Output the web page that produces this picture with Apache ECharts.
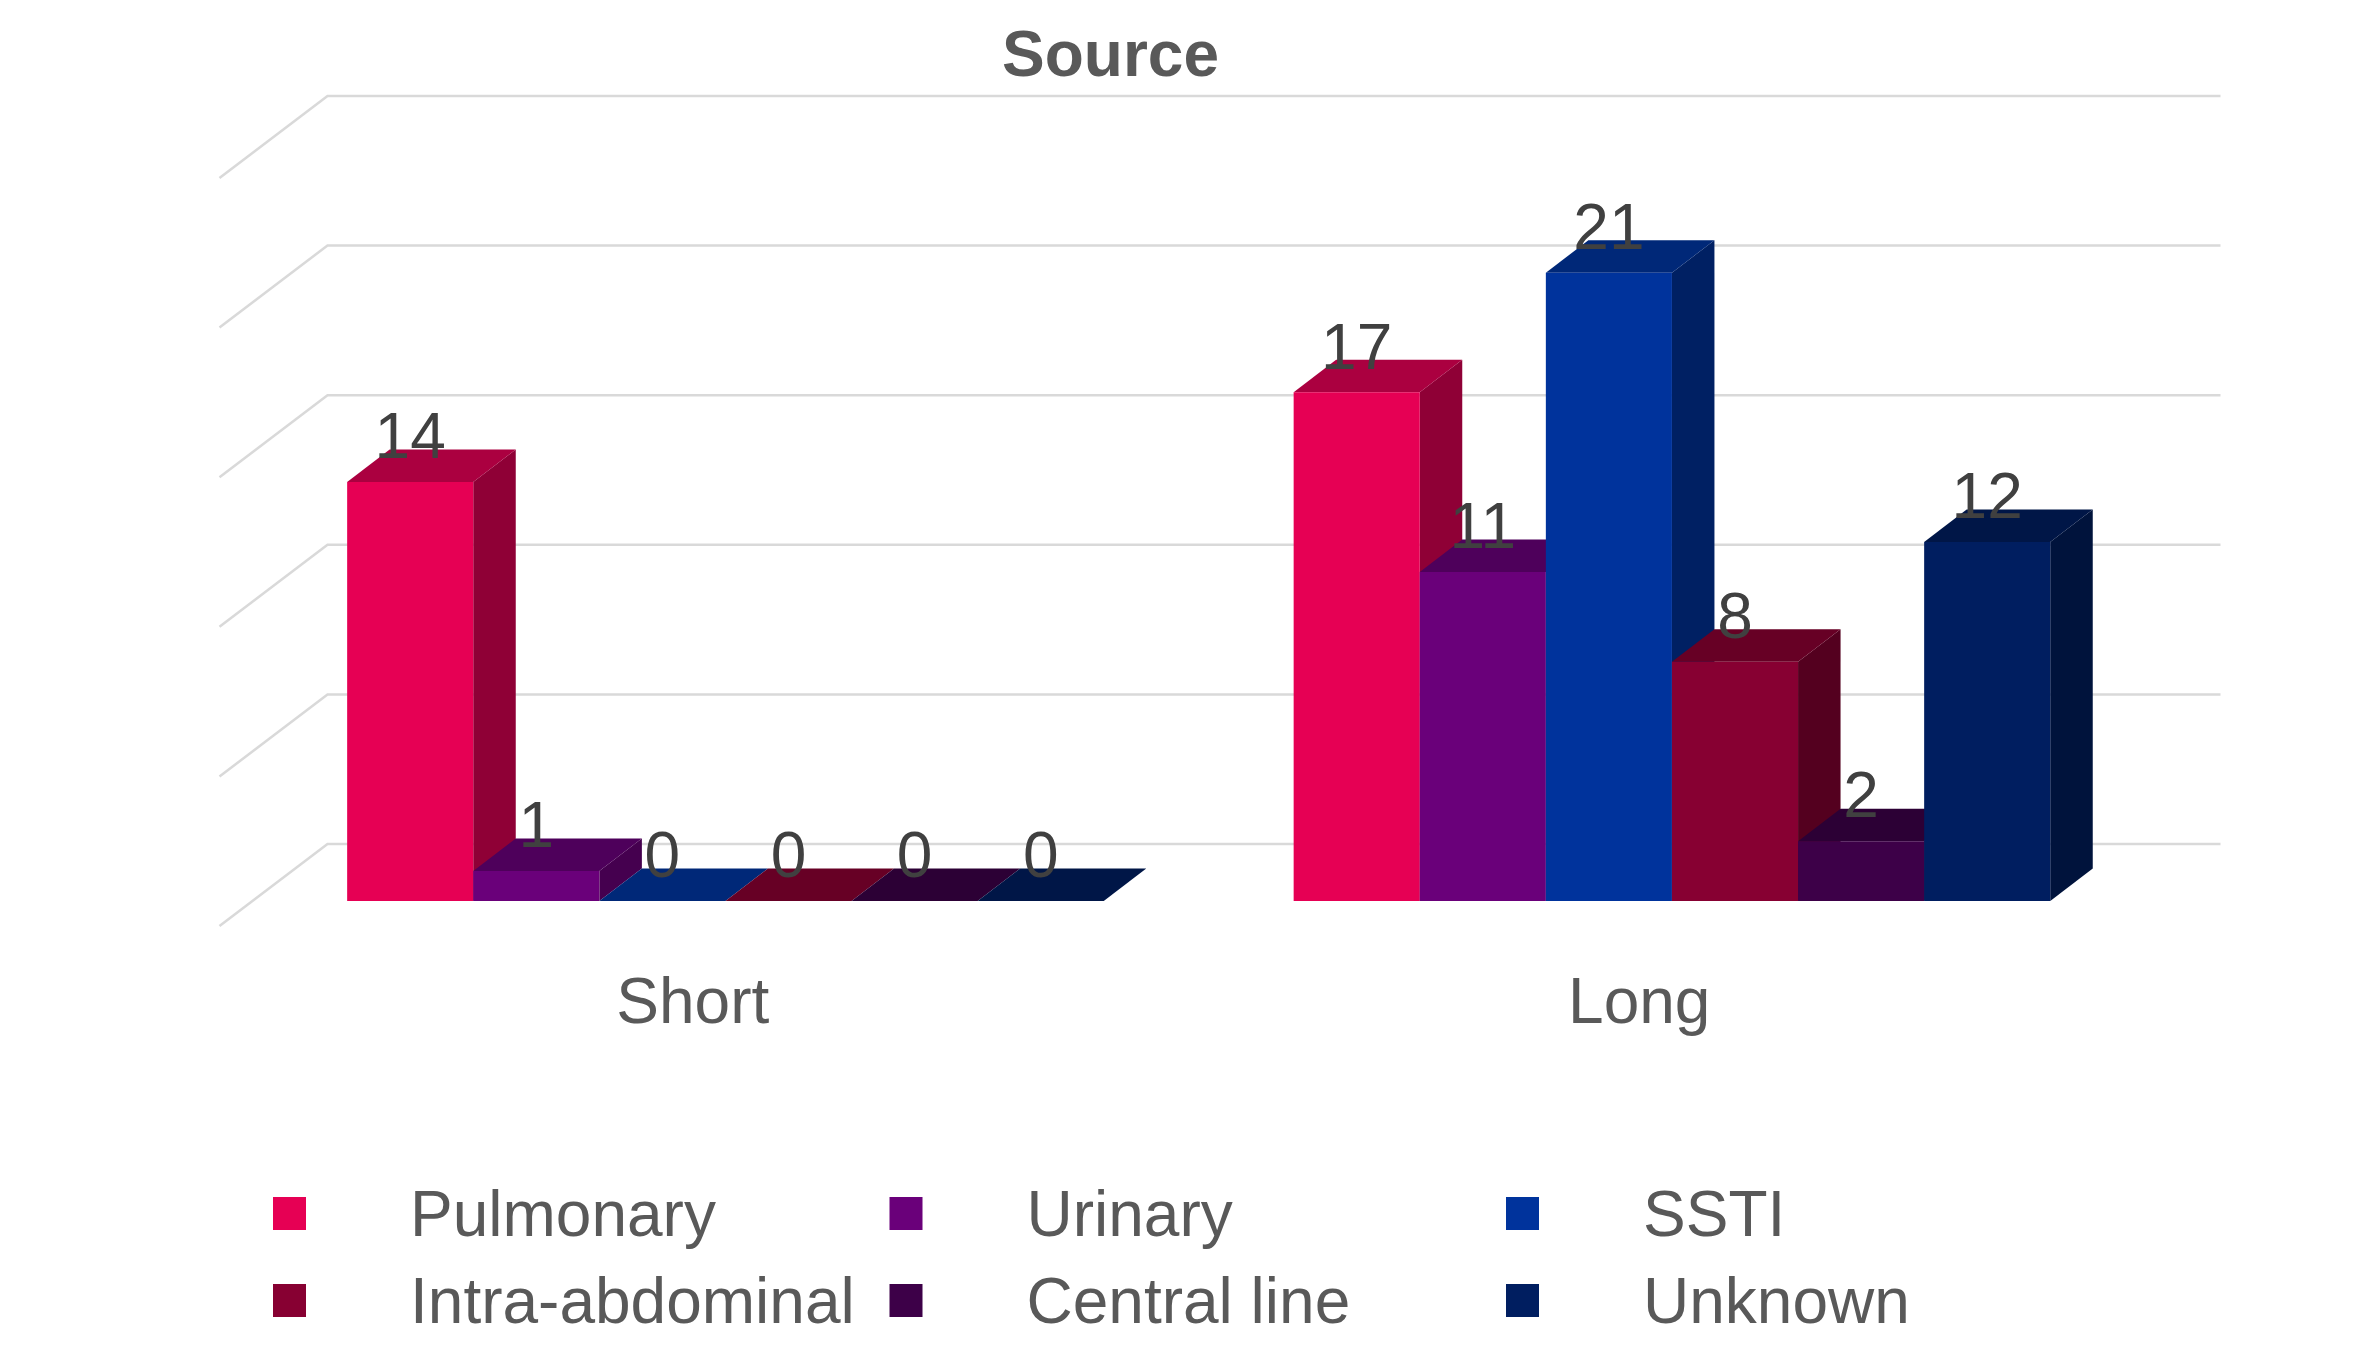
<!DOCTYPE html>
<html>

<head>
    <meta charset="utf-8">
    <title>Source</title>
    <script src="https://cdn.jsdelivr.net/npm/echarts@6/dist/echarts.min.js"></script>
    <style>
        html, body { margin: 0; padding: 0; background: #fff; }
    </style>
</head>

<body>
    <div id="main" style="width: 2364px;height:1357px;"></div>
    <script type="text/javascript">
        var categories = ['Short', 'Long'];
        var seriesNames = ['Pulmonary', 'Urinary', 'SSTI', 'Intra-abdominal', 'Central line', 'Unknown'];
        var pulmonary = [14, 17];
        var urinary = [1, 11];
        var ssti = [0, 21];
        var intraAbdominal = [0, 8];
        var centralLine = [0, 2];
        var unknown = [0, 12];
        var seriesValues = [pulmonary, urinary, ssti, intraAbdominal, centralLine, unknown];
        var yTicks = [0, 5, 10, 15, 20, 25];

        var frontColors = ['#E60054', '#6A007A', '#00339C', '#870032', '#3D0048', '#001E60'];
        var topColors = ['#AB0040', '#4E005B', '#002878', '#670025', '#2C0035', '#001647'];
        var sideColors = ['#8F0036', '#45004F', '#002063', '#54001F', '#25002D', '#00133C'];

        var fontName = '"Liberation Sans", Arial, sans-serif';

        // the grid is the front edge of the floor, everything else is pushed back from it
        var wallDx = 108, wallDy = 82;      // floor depth
        var barDx = 32.7, barDy = 25;       // where the bars stand on the floor
        var depthDx = 42.5, depthDy = 32.5; // depth of one bar
        var barRatio = 126.1 / 946.5;       // bar width in a category band

        function barX(api, cat, index) {
            var bandWidth = api.size([1, 0])[0];
            var barWidth = bandWidth * barRatio;
            var center = api.coord([cat, 0])[0] + barDx;
            return { left: center + (index - seriesNames.length / 2) * barWidth, width: barWidth };
        }

        function poly(points, color) {
            return {
                type: 'polygon',
                shape: { points: points },
                style: { fill: color, stroke: null }
            };
        }

        function renderBar(index) {
            return function(params, api) {
                var cat = api.value(0);
                var pos = barX(api, cat, index);
                var x0 = pos.left;
                var x1 = pos.left + pos.width;
                var y0 = api.coord([cat, 0])[1] - barDy;
                var y1 = api.coord([cat, api.value(1)])[1] - barDy;
                var children = [
                    poly([[x1, y0], [x1 + depthDx, y0 - depthDy], [x1 + depthDx, y1 - depthDy], [x1, y1]], sideColors[index]),
                    poly([[x0, y1], [x1, y1], [x1 + depthDx, y1 - depthDy], [x0 + depthDx, y1 - depthDy]], topColors[index])
                ];
                if (y0 > y1) {
                    children.push(poly([[x0, y0], [x1, y0], [x1, y1], [x0, y1]], frontColors[index]));
                }
                return { type: 'group', children: children };
            };
        }

        function renderWall(params, api) {
            var rect = params.coordSys;
            var y = api.coord([0, api.value(1)])[1];
            return {
                type: 'polyline',
                shape: {
                    points: [
                        [rect.x, y],
                        [rect.x + wallDx, y - wallDy],
                        [rect.x + rect.width + wallDx, y - wallDy]
                    ]
                },
                style: { stroke: '#D9D9D9', lineWidth: 2.5, fill: null }
            };
        }

        function renderLabel(params, api) {
            var cat = api.value(0);
            var pos = barX(api, cat, api.value(2));
            var y = api.coord([cat, api.value(1)])[1] - barDy;
            return {
                type: 'text',
                x: pos.left + pos.width / 2,
                y: y - 41.5,
                style: {
                    text: String(api.value(1)),
                    fill: '#404040',
                    font: '64px ' + fontName,
                    align: 'center',
                    verticalAlign: 'middle'
                }
            };
        }

        var series = [{
            name: 'wall',
            type: 'custom',
            renderItem: renderWall,
            clip: false,
            silent: true,
            encode: { x: 0, y: 1 },
            data: yTicks.map(function(t) { return [0, t]; }),
            z: 1
        }];

        seriesNames.forEach(function(name, i) {
            series.push({
                name: name,
                type: 'custom',
                renderItem: renderBar(i),
                clip: false,
                itemStyle: { color: frontColors[i] },
                encode: { x: 0, y: 1 },
                data: seriesValues[i].map(function(v, c) { return [c, v]; }),
                z: 2 + i
            });
        });

        var labelData = [];
        seriesValues.forEach(function(values, i) {
            values.forEach(function(v, c) {
                labelData.push([c, v, i]);
            });
        });
        series.push({
            name: 'labels',
            type: 'custom',
            renderItem: renderLabel,
            clip: false,
            silent: true,
            encode: { x: 0, y: 1 },
            data: labelData,
            z: 20
        });

        var myChart = echarts.init(document.getElementById('main'));

        var option = {
            animation: false,
            backgroundColor: '#fff',
            title: {
                text: 'Source',
                left: 1105.5,
                top: 21.5,
                textAlign: 'center',
                textStyle: {
                    fontFamily: fontName,
                    fontSize: 64,
                    fontWeight: 'bold',
                    color: '#595959'
                }
            },
            grid: {
                left: 219.5,
                top: 178,
                width: 1893,
                height: 748
            },
            xAxis: {
                type: 'category',
                data: categories,
                axisLine: { show: false },
                axisTick: { show: false },
                axisLabel: {
                    fontFamily: fontName,
                    fontSize: 64,
                    color: '#595959',
                    margin: 47.5
                }
            },
            yAxis: {
                type: 'value',
                min: 0,
                max: 25,
                interval: 5,
                axisLine: { show: false },
                axisTick: { show: false },
                axisLabel: { show: false },
                splitLine: { show: false }
            },
            legend: {
                data: seriesNames,
                left: 273,
                top: 1170,
                width: 1890,
                padding: 0,
                itemGap: 0,
                itemWidth: 33,
                itemHeight: 33,
                icon: 'rect',
                selectedMode: false,
                formatter: '{n|{name}}',
                textStyle: {
                    rich: {
                        n: {
                            fontFamily: fontName,
                            fontSize: 64,
                            color: '#595959',
                            width: 479.5,
                            height: 78,
                            lineHeight: 78,
                            padding: [9, 0, 0, 99]
                        }
                    }
                }
            },
            series: series
        };

        myChart.setOption(option);
    </script>
</body>

</html>
